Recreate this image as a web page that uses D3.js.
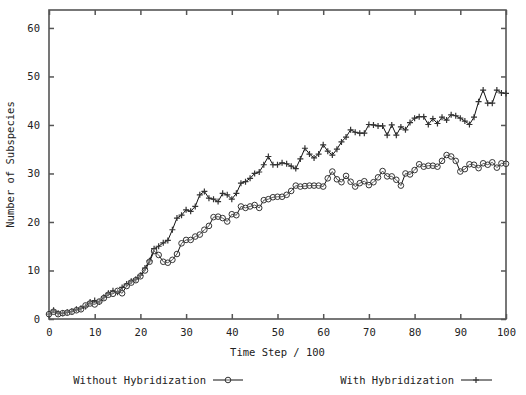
<!DOCTYPE html>
<html>
<head>
<meta charset="utf-8">
<script src="https://cdn.jsdelivr.net/npm/d3@7"></script>
<style>
  body { margin: 0; background: #fff; }
  text { font-family: "DejaVu Sans Mono", monospace; font-size: 10.5px; fill: #222; }
</style>
</head>
<body>
<div id="chart"></div>
<script>
// Data
var steps = d3.range(0, 101);

var withoutHyb = [1.0, 1.5, 1.0, 1.2, 1.3, 1.5, 1.8, 2.0, 2.8, 3.2,
    3.0, 3.6, 4.3, 5.0, 5.2, 5.8, 5.3, 6.8, 7.5, 8.0,
    8.8, 10.0, 11.8, 14.0, 13.2, 11.8, 11.6, 12.2, 13.4, 15.6,
    16.3, 16.3, 17.0, 17.4, 18.4, 19.2, 21.0, 21.1, 20.8, 20.1,
    21.6, 21.4, 23.2, 22.9, 23.2, 23.5, 22.9, 24.5, 24.7, 25.1,
    25.2, 25.2, 25.6, 26.4, 27.5, 27.3, 27.4, 27.5, 27.5, 27.5,
    27.3, 29.0, 30.4, 28.8, 28.2, 29.5, 28.3, 27.3, 28.0, 28.4,
    27.6, 28.2, 29.2, 30.5, 29.4, 29.4, 28.7, 27.5, 30.0, 29.8,
    30.7, 31.9, 31.4, 31.6, 31.6, 31.4, 32.6, 33.8, 33.5, 32.6,
    30.4, 30.9, 31.9, 31.8, 31.1, 32.1, 31.8, 32.3, 31.2, 32.1,
    32.0];

var withHyb = [1.0, 1.8, 1.2, 1.2, 1.4, 1.6, 2.0, 2.2, 2.6, 3.5,
    3.8, 3.5, 4.5, 5.3, 5.8, 5.5, 6.5, 7.2, 7.8, 8.2,
    9.0, 10.5, 12.0, 14.5, 15.0, 15.7, 16.2, 18.4, 20.8, 21.4,
    22.5, 22.2, 23.2, 25.6, 26.3, 24.9, 24.7, 24.2, 25.9, 25.6,
    24.7, 25.9, 28.0, 28.3, 29.0, 30.0, 30.3, 31.8, 33.5, 31.8,
    31.8, 32.2, 32.0, 31.5, 31.0, 33.0, 35.2, 34.0, 33.2, 34.0,
    35.9, 34.6, 33.8, 35.0, 36.5, 37.5, 39.0, 38.5, 38.3, 38.3,
    40.1, 40.0, 39.8, 39.8, 37.9, 40.0, 37.9, 39.6, 39.0, 40.5,
    41.4, 41.7, 41.7, 40.1, 41.3, 40.3, 41.6, 41.0, 42.1, 41.9,
    41.4, 40.8, 40.1, 41.6, 44.8, 47.2, 44.5, 44.5, 47.2, 46.6,
    46.5];

var xTicks = [0, 10, 20, 30, 40, 50, 60, 70, 80, 90, 100];
var yTicks = [0, 10, 20, 30, 40, 50, 60];

// Setup
var W = 526, H = 395;
var margin = {top: 10, right: 20, bottom: 76, left: 49},
    width = W - margin.left - margin.right,
    height = H - margin.top - margin.bottom;

var svg = d3.select("#chart").append("svg")
    .attr("width", W)
    .attr("height", H);

var g = svg.append("g")
    .attr("transform", "translate(" + margin.left + "," + margin.top + ")");

var x = d3.scaleLinear().domain([0, 100]).range([0, width]);
var y = d3.scaleLinear().domain([0, 63.7]).range([height, 0]);

var tickLen = 5, axisColor = "#555";

// Mirror ticks (inward) on all four sides
g.append("g")
    .attr("transform", "translate(0," + height + ")")
    .call(d3.axisBottom(x).tickValues(xTicks).tickSize(-tickLen).tickPadding(10))
    .call(function(a) { a.select(".domain").remove(); });
g.append("g")
    .call(d3.axisTop(x).tickValues(xTicks).tickSize(-tickLen).tickFormat(""))
    .call(function(a) { a.select(".domain").remove(); });
g.append("g")
    .call(d3.axisLeft(y).tickValues(yTicks).tickSize(-tickLen).tickPadding(9))
    .call(function(a) { a.select(".domain").remove(); });
g.append("g")
    .attr("transform", "translate(" + width + ",0)")
    .call(d3.axisRight(y).tickValues(yTicks).tickSize(-tickLen).tickFormat(""))
    .call(function(a) { a.select(".domain").remove(); });

g.selectAll(".tick line").attr("stroke", axisColor).attr("stroke-width", 1.5);
g.selectAll(".tick text").style("font-size", "10.5px").attr("fill", "#222");

// frame
g.append("rect")
    .attr("width", width).attr("height", height)
    .attr("fill", "none").attr("stroke", axisColor).attr("stroke-width", 1.6);

// Lines
var line = d3.line()
    .x(function(d, i) { return x(steps[i]); })
    .y(function(d) { return y(d); });

g.append("path").datum(withHyb)
    .attr("d", line).attr("fill", "none")
    .attr("stroke", "#111").attr("stroke-width", 1);
g.append("path").datum(withoutHyb)
    .attr("d", line).attr("fill", "none")
    .attr("stroke", "#111").attr("stroke-width", 1);

// markers
function plus(sel, px, py) {
    sel.append("path")
        .attr("d", "M" + (px - 3) + "," + py + "h6M" + px + "," + (py - 3) + "v6")
        .attr("stroke", "#333").attr("stroke-width", 1.2);
}
function circ(sel, px, py) {
    sel.append("circle")
        .attr("cx", px).attr("cy", py).attr("r", 2.8)
        .attr("fill", "#fff").attr("fill-opacity", 0.3)
        .attr("stroke", "#333").attr("stroke-width", 1);
}

var mk = g.append("g");
withHyb.forEach(function(d, i) { plus(mk, x(steps[i]), y(d)); });
withoutHyb.forEach(function(d, i) { circ(mk, x(steps[i]), y(d)); });

// Axis titles
svg.append("text")
    .attr("x", margin.left + width / 2).attr("y", 356)
    .attr("text-anchor", "middle")
    .text("Time Step / 100");

svg.append("text")
    .attr("transform", "translate(14," + (margin.top + height / 2) + ") rotate(-90)")
    .attr("text-anchor", "middle")
    .text("Number of Subspecies");

// Legend
var leg = svg.append("g");
leg.append("text").attr("x", 206).attr("y", 384).attr("text-anchor", "end")
    .text("Without Hybridization");
leg.append("line").attr("x1", 213).attr("x2", 243).attr("y1", 380).attr("y2", 380)
    .attr("stroke", "#111");
circ(leg, 228, 380);

leg.append("text").attr("x", 454).attr("y", 384).attr("text-anchor", "end")
    .text("With Hybridization");
leg.append("line").attr("x1", 461).attr("x2", 492).attr("y1", 380).attr("y2", 380)
    .attr("stroke", "#111");
plus(leg, 476, 380);
</script>
</body>
</html>
